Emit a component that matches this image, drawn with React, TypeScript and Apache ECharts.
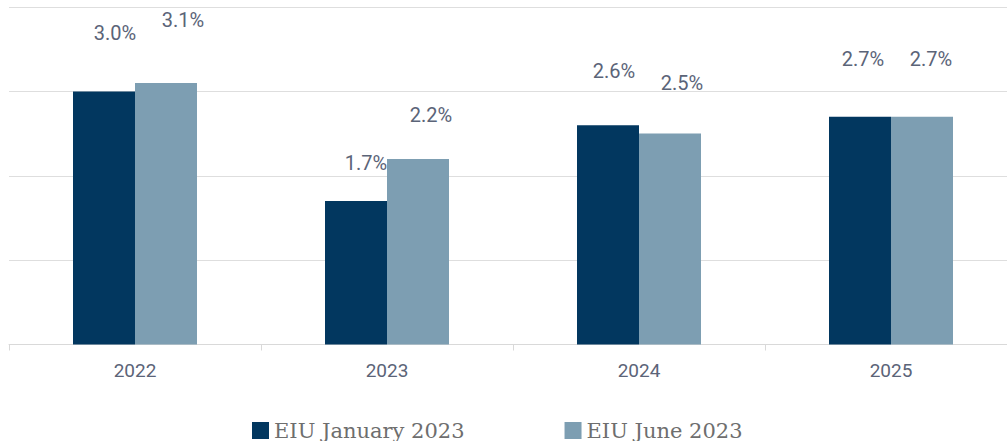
import React, { useEffect, useRef } from "react";
import * as echarts from "echarts";

const categories = ["2022", "2023", "2024", "2025"];
const seriesNames = ["EIU January 2023", "EIU June 2023"];
const janValues = [3.0, 1.7, 2.6, 2.7];
const junValues = [3.1, 2.2, 2.5, 2.7];
const yTicks = [0, 1, 2, 3, 4];

// label nudges (styling only)
const janLabelOffsets = [[11, -48], [10, -28], [6, -44], [3, -48]];
const junLabelOffsets = [[17, -53], [13, -34], [12, -41], [9, -48]];

const DARK = "#02375f";
const LIGHT = "#7d9eb2";
const LABEL = "#5b6478";

export default function App() {
  const ref = useRef<HTMLDivElement>(null);
  useEffect(() => {
    if (!ref.current) return;
    const chart = echarts.init(ref.current, undefined, { renderer: "svg" });
    const mk = (vals: number[], offs: number[][]) =>
      vals.map((v, i) => ({
        value: v,
        label: { offset: offs[i] },
      }));
    chart.setOption({
      animation: false,
      backgroundColor: "#ffffff",
      grid: { left: 9, top: 7, right: 0, bottom: 96.5, containLabel: false },
      legend: {
        left: 252,
        top: 420,
        padding: 0,
        itemWidth: 17,
        itemHeight: 17,
        itemGap: 100,
        icon: "rect",
        textStyle: {
          fontFamily: "DejaVu Serif",
          fontSize: 21,
          color: "#6e6e6e",
        },
        data: seriesNames,
      },
      xAxis: {
        type: "category",
        data: categories,
        axisLine: { lineStyle: { color: "#d9d9d9", width: 1 } },
        axisTick: { show: true, length: 6, lineStyle: { color: "#d9d9d9" } },
        axisLabel: { fontFamily: "Roboto", fontSize: 19, color: LABEL, margin: 16 },
      },
      yAxis: {
        type: "value",
        min: yTicks[0],
        max: yTicks[yTicks.length - 1],
        interval: 1,
        axisLabel: { show: false },
        axisLine: { show: false },
        axisTick: { show: false },
        splitLine: { lineStyle: { color: "#dedede", width: 1 } },
      },
      series: [
        {
          name: seriesNames[0],
          type: "bar",
          data: mk(janValues, janLabelOffsets),
          barWidth: 62,
          barGap: "0%",
          itemStyle: { color: DARK },
          label: {
            show: true,
            position: "top",
            distance: 0,
            fontFamily: "Roboto",
            fontSize: 20,
            color: LABEL,
            formatter: (p: any) => p.value.toFixed(1) + "%",
          },
        },
        {
          name: seriesNames[1],
          type: "bar",
          data: mk(junValues, junLabelOffsets),
          barWidth: 62,
          barGap: "0%",
          itemStyle: { color: LIGHT },
          label: {
            show: true,
            position: "top",
            distance: 0,
            fontFamily: "Roboto",
            fontSize: 20,
            color: LABEL,
            formatter: (p: any) => p.value.toFixed(1) + "%",
          },
        },
      ],
    });
    return () => chart.dispose();
  }, []);
  return (
    <div
      ref={ref}
      style={{ position: "fixed", left: 0, top: 0, width: 1017, height: 441 }}
    />
  );
}
